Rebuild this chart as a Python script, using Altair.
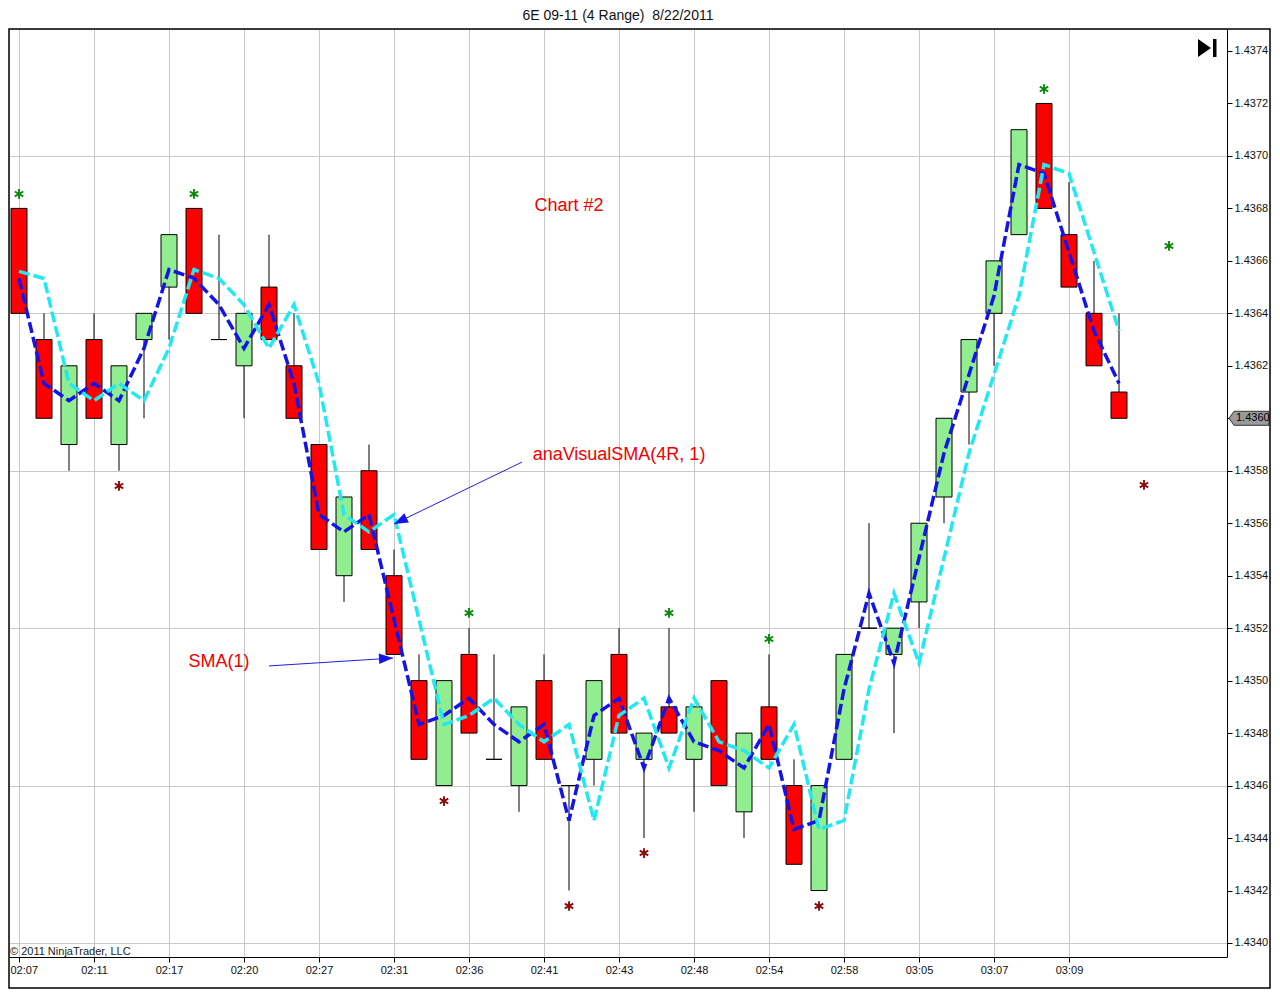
import altair as alt
import pandas as pd

title_text = "6E 09-11 (4 Range)\u00a0 8/22/2011"
time_labels = ["02:07", "02:11", "02:17", "02:20", "02:27", "02:31", "02:36", "02:41",
               "02:43", "02:48", "02:54", "02:58", "03:05", "03:07", "03:09"]

opens = [1.4368, 1.4363, 1.4359, 1.4363, 1.4359, 1.4363, 1.4365, 1.4368, 1.4363, 1.4362,
         1.4365, 1.4362, 1.4359, 1.4354, 1.4358, 1.4354, 1.4350, 1.4346, 1.4351, 1.4347,
         1.4346, 1.4350, 1.4346, 1.4347, 1.4351, 1.4347, 1.4349, 1.4347, 1.4350, 1.4345,
         1.4349, 1.4346, 1.4342, 1.4347, 1.4352, 1.4351, 1.4353, 1.4357, 1.4361, 1.4364,
         1.4367, 1.4372, 1.4367, 1.4364, 1.4361]
highs = [1.4368, 1.4364, 1.4362, 1.4364, 1.4362, 1.4364, 1.4367, 1.4368, 1.4367, 1.4364,
         1.4367, 1.4364, 1.4359, 1.4357, 1.4359, 1.4355, 1.4351, 1.4350, 1.4352, 1.4351,
         1.4349, 1.4351, 1.4346, 1.4350, 1.4352, 1.4348, 1.4352, 1.4349, 1.4350, 1.4348,
         1.4351, 1.4347, 1.4346, 1.4351, 1.4356, 1.4352, 1.4356, 1.4360, 1.4363, 1.4366,
         1.4371, 1.4372, 1.4369, 1.4366, 1.4364]
lows = [1.4364, 1.4360, 1.4358, 1.4360, 1.4358, 1.4360, 1.4363, 1.4364, 1.4363, 1.4360,
        1.4363, 1.4360, 1.4355, 1.4353, 1.4355, 1.4351, 1.4347, 1.4346, 1.4348, 1.4347,
        1.4345, 1.4347, 1.4342, 1.4346, 1.4348, 1.4344, 1.4348, 1.4345, 1.4346, 1.4344,
        1.4347, 1.4343, 1.4342, 1.4347, 1.4352, 1.4348, 1.4352, 1.4356, 1.4359, 1.4362,
        1.4367, 1.4368, 1.4365, 1.4362, 1.4360]
closes = [1.4364, 1.4360, 1.4362, 1.4360, 1.4362, 1.4364, 1.4367, 1.4364, 1.4363, 1.4364,
          1.4363, 1.4360, 1.4355, 1.4357, 1.4355, 1.4351, 1.4347, 1.4350, 1.4348, 1.4347,
          1.4349, 1.4347, 1.4346, 1.4350, 1.4348, 1.4348, 1.4348, 1.4349, 1.4346, 1.4348,
          1.4347, 1.4343, 1.4346, 1.4351, 1.4352, 1.4352, 1.4356, 1.4360, 1.4363, 1.4366,
          1.4371, 1.4368, 1.4365, 1.4362, 1.4360]

sma_1 = [1.436533, 1.436133, 1.436067, 1.436133, 1.436067, 1.436267, 1.436567, 1.436533,
         1.436433, 1.436267, 1.436433, 1.436133, 1.435633, 1.435567, 1.435633, 1.435233,
         1.434833, 1.434867, 1.434933, 1.434833, 1.434767, 1.434833, 1.434467, 1.434867,
         1.434933, 1.434667, 1.434933, 1.434767, 1.434733, 1.434667, 1.434833, 1.434433,
         1.434467, 1.434967, 1.435333, 1.435067, 1.435467, 1.435867, 1.436167, 1.436467,
         1.436967, 1.436933, 1.436633, 1.436333, 1.436133]
visual_sma = [1.436560, 1.436533, 1.436133, 1.436067, 1.436133, 1.436067, 1.436267, 1.436567,
              1.436533, 1.436433, 1.436267, 1.436433, 1.436133, 1.435633, 1.435567, 1.435633,
              1.435233, 1.434833, 1.434867, 1.434933, 1.434833, 1.434767, 1.434833, 1.434467,
              1.434867, 1.434933, 1.434667, 1.434933, 1.434767, 1.434733, 1.434667, 1.434833,
              1.434433, 1.434467, 1.434967, 1.435333, 1.435067, 1.435467, 1.435867, 1.436167,
              1.436467, 1.436967, 1.436933, 1.436633, 1.436333]

green_star_idx = [0, 7, 18, 26, 30, 41, 46]
green_star_val = [1.436855, 1.436855, 1.435258, 1.435258, 1.435159, 1.437255, 1.436657]
red_star_idx = [4, 17, 22, 25, 32, 45]
red_star_val = [1.435742, 1.434541, 1.434141, 1.434343, 1.434141, 1.435746]

note_text = ["Chart #2", "anaVisualSMA(4R, 1)", "SMA(1)"]
note_idx = [22, 24, 8]
note_val = [1.43681, 1.43586, 1.43507]

arrow_from_idx = [20.12, 10.0]
arrow_from_val = [1.435833, 1.435056]
arrow_to_idx = [15.0, 14.96]
arrow_to_val = [1.435597, 1.435086]
arrow_angle = [244, 87]

copyright_text = "\u00a9 2011 NinjaTrader, LLC"

# ---------------------------------------------------------------- tables
n = len(opens)
bars = pd.DataFrame({"i": list(range(n)), "o": opens, "h": highs, "l": lows, "c": closes})
bars["dir"] = ["up" if c > o else "down" for o, c in zip(opens, closes)]
lines = pd.DataFrame({"i": list(range(n)), "sma": sma_1, "vis": visual_sma})
gstars = pd.DataFrame({"i": green_star_idx, "v": green_star_val})
rstars = pd.DataFrame({"i": red_star_idx, "v": red_star_val})
notes = pd.DataFrame({"i": note_idx, "v": note_val, "t": note_text})
arrows = pd.DataFrame({"i": arrow_from_idx, "v": arrow_from_val,
                       "i2": arrow_to_idx, "v2": arrow_to_val, "a": arrow_angle})
last = pd.DataFrame({"v": [closes[-1]], "t": [f"{closes[-1]:.4f}"]})
one = pd.DataFrame({"k": [0]})

FONT = "Liberation Sans"
XS = alt.Scale(domain=[-0.4, 48.32], nice=False, zero=False, padding=0)
YS = alt.Scale(domain=[1.4339466, 1.4374838], nice=False, zero=False, padding=0)

label_arr = "[" + ",".join(f"'{t}'" for t in time_labels) + "]"
x_axis = alt.Axis(values=list(range(0, 3 * len(time_labels), 3)),
                  labelExpr=label_arr + "[round(datum.value/3)]",
                  title=None, grid=True, gridColor="#c8c8c8", gridWidth=1,
                  ticks=True, tickSize=5, tickColor="black", domainColor="black",
                  labelFont=FONT, labelFontSize=11, labelColor="#111",
                  labelPadding=2, labelFlush=False,
                  labelAlign={"condition": {"test": "datum.value == 0", "value": "left"},
                              "value": "center"},
                  labelOffset={"condition": {"test": "datum.value == 0", "value": -9},
                               "value": 0})
y_axis = alt.Axis(orient="right", values=[round(1.4340 + k * 0.0002, 4) for k in range(18)],
                  format=".4f", title=None, grid=True,
                  gridColor={"condition": {"test": "round((datum.value - 1.434) * 10000) % 6 == 0",
                                           "value": "#c8c8c8"},
                             "value": "rgba(0,0,0,0)"},
                  ticks=True, tickSize=5, tickColor="black", domainColor="black",
                  labelFont=FONT, labelFontSize=11, labelColor="#111", labelPadding=2)

base = alt.Chart(bars)

wicks = base.mark_rule(color="black", strokeWidth=1).encode(
    x=alt.X("i:Q", scale=XS, axis=x_axis),
    y=alt.Y("l:Q", scale=YS, axis=y_axis),
    y2="h:Q",
)
bodies = base.mark_bar(size=16, stroke="black", strokeWidth=1).encode(
    x=alt.X("i:Q", scale=XS),
    y=alt.Y("o:Q", scale=YS),
    y2="c:Q",
    color=alt.Color("dir:N", scale=alt.Scale(domain=["up", "down"], range=["#90EE90", "#FF0000"]),
                    legend=None),
)
sma_line = alt.Chart(lines).mark_line(color="#1414E6", strokeWidth=3.5, strokeDash=[11, 4]).encode(
    x=alt.X("i:Q", scale=XS), y=alt.Y("sma:Q", scale=YS))
vis_line = alt.Chart(lines).mark_line(color="#22E8F2", strokeWidth=3.5, strokeDash=[11, 4]).encode(
    x=alt.X("i:Q", scale=XS), y=alt.Y("vis:Q", scale=YS))

AST = "M0,-1L0,1M-0.87,-0.5L0.87,0.5M-0.87,0.5L0.87,-0.5"
g_st = alt.Chart(gstars).mark_point(shape=AST, size=95, filled=False, strokeWidth=1.9,
                                    color="#0A8A0A", opacity=1).encode(
    x=alt.X("i:Q", scale=XS), y=alt.Y("v:Q", scale=YS))
r_st = alt.Chart(rstars).mark_point(shape=AST, size=95, filled=False, strokeWidth=1.9,
                                    color="#8B0A0A", opacity=1).encode(
    x=alt.X("i:Q", scale=XS), y=alt.Y("v:Q", scale=YS))

arrow_lines = alt.Chart(arrows).mark_rule(color="#2020E0", strokeWidth=1).encode(
    x=alt.X("i:Q", scale=XS), y=alt.Y("v:Q", scale=YS), x2="i2:Q", y2="v2:Q")
arrow_heads = alt.Chart(arrows).mark_point(shape="M0,0L0.75,2L-0.75,2Z", size=196, filled=True,
                                           color="#1414E6", opacity=1, strokeWidth=0).encode(
    x=alt.X("i2:Q", scale=XS), y=alt.Y("v2:Q", scale=YS),
    angle=alt.Angle("a:Q", scale=None))

note_marks = alt.Chart(notes).mark_text(font=FONT, fontSize=18, color="#F00000",
                                        align="center", baseline="middle").encode(
    x=alt.X("i:Q", scale=XS), y=alt.Y("v:Q", scale=YS), text="t:N")

copyright = alt.Chart(one).mark_text(text=copyright_text, font=FONT, fontSize=11, color="#222",
                                     align="left", baseline="alphabetic").encode(
    x=alt.value(1), y=alt.value(926))

icon = alt.Chart(one).mark_point(shape="M0,-9L13,0L0,9Z M15,-9L18.5,-9L18.5,9L15,9Z", size=4,
                                 filled=True, color="black", opacity=1).encode(
    x=alt.value(1189), y=alt.value(19))

tag = alt.Chart(last).mark_point(shape="M0,0L5,-7L40,-7L40,7L5,7Z", size=4, filled=True,
                                 fill="#9a9a9a", stroke="#333", strokeWidth=1, opacity=1).encode(
    x=alt.value(1220), y=alt.Y("v:Q", scale=YS))
tag_text = alt.Chart(last).mark_text(font=FONT, fontSize=11, color="black", align="left",
                                     baseline="middle").encode(
    x=alt.value(1227), y=alt.Y("v:Q", scale=YS), text="t:N")

frame = alt.Chart(one).mark_rect(filled=False, stroke="black", strokeWidth=1.5, fill=None).encode(
    x=alt.value(0), x2=alt.value(1261), y=alt.value(0), y2=alt.value(959))

chart = alt.layer(
    wicks, bodies, sma_line, vis_line, g_st, r_st, arrow_lines, arrow_heads,
    note_marks, copyright, icon, tag, tag_text, frame
).properties(
    width=1218, height=928,
    title=alt.TitleParams(title_text, font=FONT, fontSize=14, fontWeight="normal",
                          color="#111", offset=5, anchor="middle"),
    padding={"left": 0, "top": 1, "right": 0, "bottom": 0},
).configure_view(stroke="black", strokeWidth=1.5).configure(background="white")

chart.save("out.html", embed_options={"renderer": "svg", "actions": False})
